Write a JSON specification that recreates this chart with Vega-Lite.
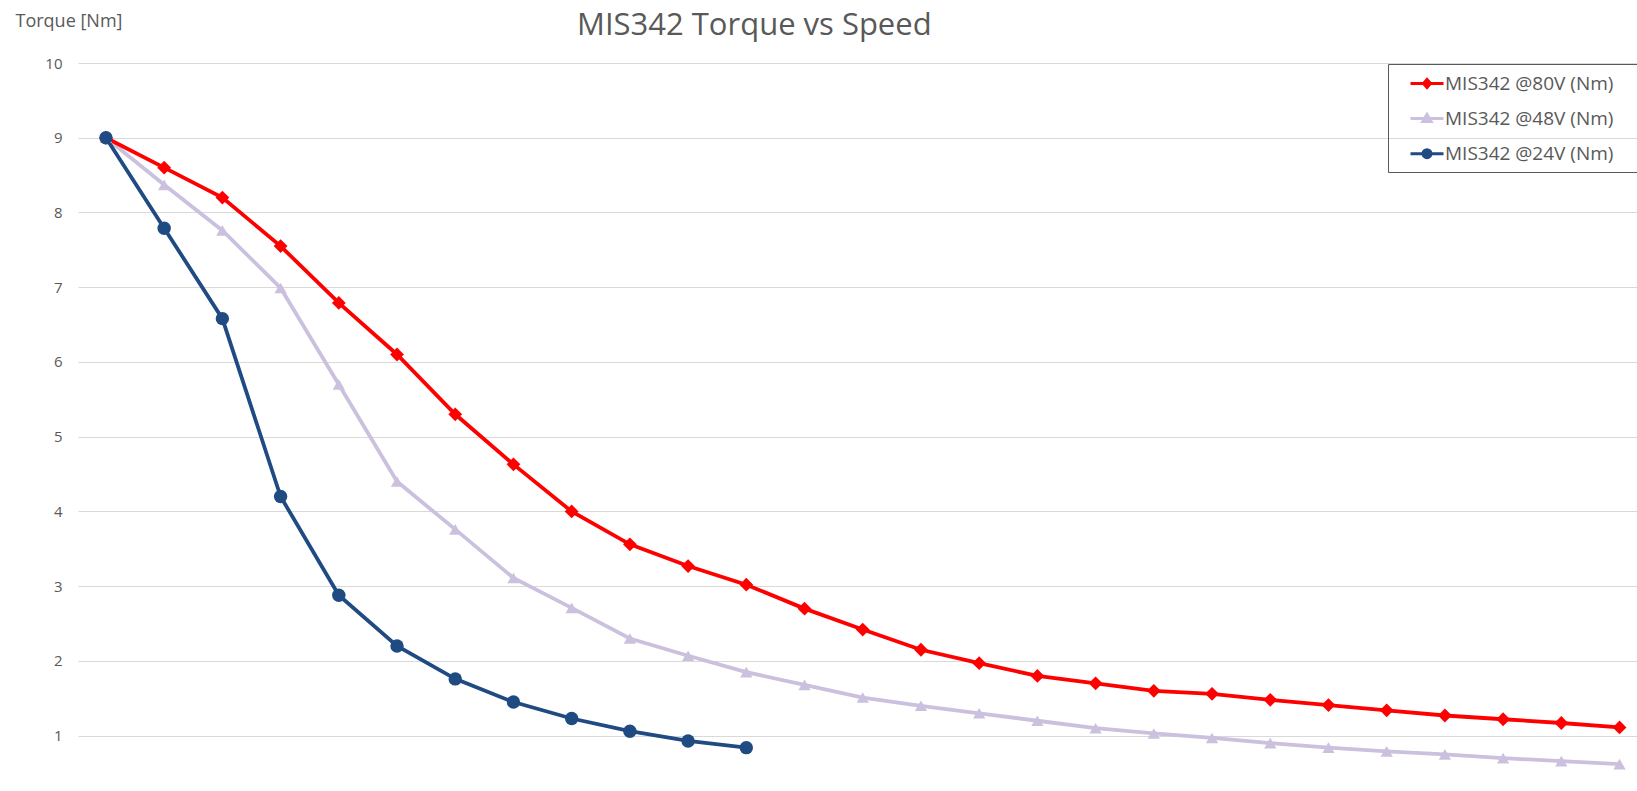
{
  "$schema": "https://vega.github.io/schema/vega-lite/v6.json",
  "width": 1559,
  "height": 728,
  "autosize": {"type": "none"},
  "padding": {"left": 78, "top": 63, "right": 0, "bottom": 0},
  "background": "white",
  "config": {"view": {"stroke": null}, "font": "Open Sans"},
  "title": {
    "text": "MIS342 Torque vs Speed",
    "anchor": "start",
    "frame": "group",
    "dx": 499,
    "dy": 58,
    "font": "Open Sans",
    "fontSize": 31,
    "fontWeight": "normal",
    "color": "#595959",
    "baseline": "alphabetic",
    "offset": 4
  },
  "data": {
    "values": [
      {"series": "MIS342 @48V (Nm)", "i": 0, "torque": 9.0},
      {"series": "MIS342 @48V (Nm)", "i": 1, "torque": 8.37},
      {"series": "MIS342 @48V (Nm)", "i": 2, "torque": 7.76},
      {"series": "MIS342 @48V (Nm)", "i": 3, "torque": 6.99},
      {"series": "MIS342 @48V (Nm)", "i": 4, "torque": 5.7},
      {"series": "MIS342 @48V (Nm)", "i": 5, "torque": 4.4},
      {"series": "MIS342 @48V (Nm)", "i": 6, "torque": 3.76},
      {"series": "MIS342 @48V (Nm)", "i": 7, "torque": 3.11},
      {"series": "MIS342 @48V (Nm)", "i": 8, "torque": 2.71},
      {"series": "MIS342 @48V (Nm)", "i": 9, "torque": 2.3},
      {"series": "MIS342 @48V (Nm)", "i": 10, "torque": 2.07},
      {"series": "MIS342 @48V (Nm)", "i": 11, "torque": 1.85},
      {"series": "MIS342 @48V (Nm)", "i": 12, "torque": 1.68},
      {"series": "MIS342 @48V (Nm)", "i": 13, "torque": 1.51},
      {"series": "MIS342 @48V (Nm)", "i": 14, "torque": 1.4},
      {"series": "MIS342 @48V (Nm)", "i": 15, "torque": 1.3},
      {"series": "MIS342 @48V (Nm)", "i": 16, "torque": 1.2},
      {"series": "MIS342 @48V (Nm)", "i": 17, "torque": 1.1},
      {"series": "MIS342 @48V (Nm)", "i": 18, "torque": 1.03},
      {"series": "MIS342 @48V (Nm)", "i": 19, "torque": 0.97},
      {"series": "MIS342 @48V (Nm)", "i": 20, "torque": 0.9},
      {"series": "MIS342 @48V (Nm)", "i": 21, "torque": 0.84},
      {"series": "MIS342 @48V (Nm)", "i": 22, "torque": 0.79},
      {"series": "MIS342 @48V (Nm)", "i": 23, "torque": 0.75},
      {"series": "MIS342 @48V (Nm)", "i": 24, "torque": 0.7},
      {"series": "MIS342 @48V (Nm)", "i": 25, "torque": 0.66},
      {"series": "MIS342 @48V (Nm)", "i": 26, "torque": 0.62},
      {"series": "MIS342 @80V (Nm)", "i": 0, "torque": 9.0},
      {"series": "MIS342 @80V (Nm)", "i": 1, "torque": 8.6},
      {"series": "MIS342 @80V (Nm)", "i": 2, "torque": 8.2},
      {"series": "MIS342 @80V (Nm)", "i": 3, "torque": 7.55},
      {"series": "MIS342 @80V (Nm)", "i": 4, "torque": 6.79},
      {"series": "MIS342 @80V (Nm)", "i": 5, "torque": 6.1},
      {"series": "MIS342 @80V (Nm)", "i": 6, "torque": 5.3},
      {"series": "MIS342 @80V (Nm)", "i": 7, "torque": 4.63},
      {"series": "MIS342 @80V (Nm)", "i": 8, "torque": 4.0},
      {"series": "MIS342 @80V (Nm)", "i": 9, "torque": 3.56},
      {"series": "MIS342 @80V (Nm)", "i": 10, "torque": 3.27},
      {"series": "MIS342 @80V (Nm)", "i": 11, "torque": 3.02},
      {"series": "MIS342 @80V (Nm)", "i": 12, "torque": 2.7},
      {"series": "MIS342 @80V (Nm)", "i": 13, "torque": 2.42},
      {"series": "MIS342 @80V (Nm)", "i": 14, "torque": 2.15},
      {"series": "MIS342 @80V (Nm)", "i": 15, "torque": 1.97},
      {"series": "MIS342 @80V (Nm)", "i": 16, "torque": 1.8},
      {"series": "MIS342 @80V (Nm)", "i": 17, "torque": 1.7},
      {"series": "MIS342 @80V (Nm)", "i": 18, "torque": 1.6},
      {"series": "MIS342 @80V (Nm)", "i": 19, "torque": 1.56},
      {"series": "MIS342 @80V (Nm)", "i": 20, "torque": 1.48},
      {"series": "MIS342 @80V (Nm)", "i": 21, "torque": 1.41},
      {"series": "MIS342 @80V (Nm)", "i": 22, "torque": 1.34},
      {"series": "MIS342 @80V (Nm)", "i": 23, "torque": 1.27},
      {"series": "MIS342 @80V (Nm)", "i": 24, "torque": 1.22},
      {"series": "MIS342 @80V (Nm)", "i": 25, "torque": 1.17},
      {"series": "MIS342 @80V (Nm)", "i": 26, "torque": 1.11},
      {"series": "MIS342 @24V (Nm)", "i": 0, "torque": 9.0},
      {"series": "MIS342 @24V (Nm)", "i": 1, "torque": 7.79},
      {"series": "MIS342 @24V (Nm)", "i": 2, "torque": 6.58},
      {"series": "MIS342 @24V (Nm)", "i": 3, "torque": 4.2},
      {"series": "MIS342 @24V (Nm)", "i": 4, "torque": 2.88},
      {"series": "MIS342 @24V (Nm)", "i": 5, "torque": 2.2},
      {"series": "MIS342 @24V (Nm)", "i": 6, "torque": 1.76},
      {"series": "MIS342 @24V (Nm)", "i": 7, "torque": 1.45},
      {"series": "MIS342 @24V (Nm)", "i": 8, "torque": 1.23},
      {"series": "MIS342 @24V (Nm)", "i": 9, "torque": 1.06},
      {"series": "MIS342 @24V (Nm)", "i": 10, "torque": 0.93},
      {"series": "MIS342 @24V (Nm)", "i": 11, "torque": 0.84}
    ]
  },
  "encoding": {
    "x": {"field": "i", "type": "quantitative", "axis": null,
          "scale": {"domain": [-0.48, 26.3], "nice": false, "zero": false}},
    "y": {"field": "torque", "type": "quantitative",
          "scale": {"domain": [0.26, 10], "nice": false, "zero": false},
          "axis": {
            "values": [1, 2, 3, 4, 5, 6, 7, 8, 9, 10],
            "grid": true, "gridColor": "#D9D9D9", "gridWidth": 1,
            "domain": false, "ticks": false,
            "labelFont": "Open Sans", "labelFontSize": 15, "labelColor": "#595959", "labelPadding": 16,
            "title": "Torque [Nm]", "titleAngle": 0, "titleAlign": "left", "titleBaseline": "alphabetic",
            "titleX": -63, "titleY": -37, "titleFont": "Open Sans", "titleFontSize": 18,
            "titleFontWeight": "normal", "titleColor": "#595959"
          }},
    "color": {"field": "series", "type": "nominal",
              "scale": {"domain": ["MIS342 @80V (Nm)", "MIS342 @48V (Nm)", "MIS342 @24V (Nm)"],
                        "range": ["#FF0000", "#CBC0DD", "#1F4B82"]},
              "legend": {
                "orient": "none", "legendX": 1310, "legendY": 1,
                "title": " ", "titleOrient": "right", "titlePadding": 26, "titleFontSize": 8,
                "padding": 8, "strokeColor": "#595959",
                "symbolSize": 400, "symbolOffset": 19.5, "labelOffset": 6.5, "rowPadding": 13.1,
                "symbolOpacity": 1, "symbolStrokeWidth": 3,
                "labelFont": "Open Sans", "labelFontSize": 19, "labelColor": "#595959", "labelLimit": 400
              }}
  },
  "layer": [
    {
      "mark": {"type": "point", "filled": false, "opacity": 0},
      "encoding": {
        "shape": {"field": "series", "type": "nominal",
                  "scale": {"domain": ["MIS342 @80V (Nm)", "MIS342 @48V (Nm)", "MIS342 @24V (Nm)"],
                            "range": [
                              "M-1.65,0H1.65M0,-0.4L0.35,0L0,0.4L-0.35,0ZM0,-0.2V0.2",
                              "M-1.65,0H1.65M0,-0.42L0.42,0.3L-0.42,0.3ZM0,-0.2V0.2",
                              "M-1.65,0H1.65M0.4,0A0.4,0.4,0,1,1,-0.4,0A0.4,0.4,0,1,1,0.4,0M0,-0.25V0.25M-0.18,-0.18L0.18,0.18M-0.18,0.18L0.18,-0.18"
                            ]},
                  "legend": {
                    "orient": "none", "legendX": 1310, "legendY": 1,
                    "title": " ", "titleOrient": "right", "titlePadding": 26, "titleFontSize": 8,
                    "padding": 8, "strokeColor": "#595959",
                    "symbolSize": 400, "symbolOffset": 19.5, "labelOffset": 6.5, "rowPadding": 13.1,
                    "symbolOpacity": 1, "symbolStrokeWidth": 3,
                    "labelFont": "Open Sans", "labelFontSize": 19, "labelColor": "#595959", "labelLimit": 400
                  }}
      }
    },
    {
      "mark": {"type": "line", "strokeWidth": 3.8}
    },
    {
      "transform": [{"filter": {"field": "series", "equal": "MIS342 @48V (Nm)"}}],
      "mark": {"type": "point", "filled": true, "opacity": 1, "shape": "triangle-up", "size": 150}
    },
    {
      "transform": [{"filter": {"field": "series", "equal": "MIS342 @80V (Nm)"}}],
      "mark": {"type": "point", "filled": true, "opacity": 1, "shape": "diamond", "size": 190}
    },
    {
      "transform": [{"filter": {"field": "series", "equal": "MIS342 @24V (Nm)"}}],
      "mark": {"type": "point", "filled": true, "opacity": 1, "shape": "circle", "size": 180}
    }
  ]
}
